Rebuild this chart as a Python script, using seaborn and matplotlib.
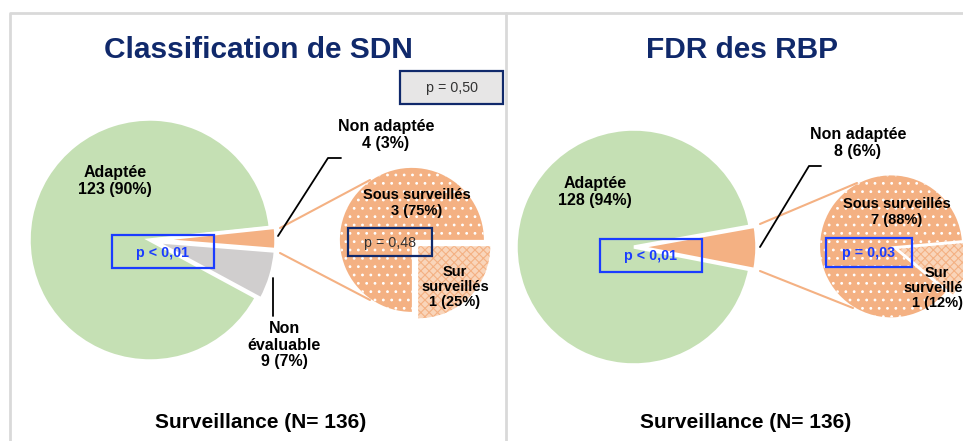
import matplotlib
matplotlib.use("Agg")
import matplotlib.pyplot as plt
import seaborn as sns
from matplotlib.patches import Rectangle

# =========================
# DATA
# =========================
titles = ["Classification de SDN", "FDR des RBP"]
footer = "Surveillance (N= 136)"

sdn_labels = ["Adaptée", "Non adaptée", "Non évaluable"]
sdn_counts = [123, 4, 9]
sdn_pct = [90, 3, 7]

rbp_labels = ["Adaptée", "Non adaptée"]
rbp_counts = [128, 8]
rbp_pct = [94, 6]

sub_labels = ["Sous surveillés", "Sur surveillés"]
sdn_sub_counts = [3, 1]
sdn_sub_pct = [75, 25]
rbp_sub_counts = [7, 1]
rbp_sub_pct = [88, 12]

p_global = "p = 0,50"
p_sdn_main = "p < 0,01"
p_sdn_sub = "p = 0,48"
p_rbp_main = "p < 0,01"
p_rbp_sub = "p = 0,03"

# =========================
# STYLE
# =========================
sns.set_theme(style="white")
plt.rcParams['font.family'] = ['Liberation Sans', 'DejaVu Sans']
plt.rcParams['text.color'] = 'black'
plt.rcParams['hatch.linewidth'] = 0.8

GREEN = "#c5e0b4"
ORANGE = "#f4b183"
LIGHT_ORANGE = "#f9d5ba"
GREY = "#d0cece"
NAVY = "#10296b"
BLUE = "#1a3cff"
H = 441
LBL = 11.5   # label size
SUB = 10.5   # sub-pie label size
PV = 10.3    # p-value size


def Y(y):
    # reference pixel rows are counted from the top
    return H - y


def lab(label, n, p):
    return f"{label}\n{n} ({p}%)"


def style_sub(wedges):
    # dotted "sous" slice, checkered "sur" slice
    wedges[0].set_edgecolor("white")
    wedges[0].set_hatch("..")
    wedges[1].set_facecolor(LIGHT_ORANGE)
    wedges[1].set_edgecolor(ORANGE)
    wedges[1].set_hatch("xxxx")


fig = plt.figure(figsize=(9.63, 4.41), dpi=100)
ax = fig.add_axes([0, 0, 1, 1])

# panel frames
ax.plot([10, 10, 506, 506], [0, Y(13), Y(13), 0], color="#d9d9d9", lw=2)
ax.plot([506, 963], [Y(13), Y(13)], color="#d9d9d9", lw=2)

# =========================
# LEFT : Classification de SDN
# =========================
ax.pie(sdn_counts, colors=[GREEN, ORANGE, GREY], startangle=-28.4,
       counterclock=False, center=(150, Y(240)), radius=121,
       explode=(0, 5, 5), frame=True,
       wedgeprops=dict(edgecolor="white", linewidth=2.5))

sub, _ = ax.pie(sdn_sub_counts, colors=[ORANGE, "white"], startangle=0,
                center=(414, Y(242)), radius=72, explode=(3, 6), frame=True,
                wedgeprops=dict(linewidth=0))
style_sub(sub)

# connectors
ax.plot([280, 370], [Y(228), Y(180)], color=ORANGE, lw=1.5)
ax.plot([280, 370], [Y(253), Y(300)], color=ORANGE, lw=1.5)
ax.plot([278, 328, 341], [Y(236), Y(158), Y(158)], color="black", lw=1.3)
ax.plot([273, 273], [Y(278), Y(316)], color="black", lw=1.3)

ax.text(258, Y(50), titles[0], ha="center", va="center", fontsize=21.5,
        fontweight="bold", color=NAVY)
ax.text(115, Y(181), lab(sdn_labels[0], sdn_counts[0], sdn_pct[0]),
        ha="center", va="center", fontsize=LBL, fontweight="bold", linespacing=1.2)
ax.text(386, Y(135), lab(sdn_labels[1], sdn_counts[1], sdn_pct[1]),
        ha="center", va="center", fontsize=LBL, fontweight="bold", linespacing=1.2)
ax.text(284, Y(345), "Non\névaluable\n%d (%d%%)" % (sdn_counts[2], sdn_pct[2]),
        ha="center", va="center", fontsize=LBL, fontweight="bold", linespacing=1.15)
ax.text(417, Y(203), lab(sub_labels[0], sdn_sub_counts[0], sdn_sub_pct[0]),
        ha="center", va="center", fontsize=SUB, fontweight="bold", linespacing=1.1)
ax.text(455, Y(287), "Sur\nsurveillés\n%d (%d%%)" % (sdn_sub_counts[1], sdn_sub_pct[1]),
        ha="center", va="center", fontsize=SUB, fontweight="bold", linespacing=1.1)

ax.add_patch(Rectangle((400, Y(104)), 103, 33, facecolor="#e7e6e6",
                       edgecolor=NAVY, lw=1.6))
ax.text(452, Y(88), p_global, ha="center", va="center", fontsize=PV, color="#333333")
ax.add_patch(Rectangle((112, Y(268)), 102, 33, facecolor="none", edgecolor=BLUE, lw=1.6))
ax.text(162, Y(253), p_sdn_main, ha="center", va="center", fontsize=PV,
        fontweight="bold", color=BLUE)
ax.add_patch(Rectangle((348, Y(256)), 84, 28, facecolor="none", edgecolor=NAVY, lw=1.6))
ax.text(390, Y(243), p_sdn_sub, ha="center", va="center", fontsize=PV, color="#333333")

ax.text(261, Y(423), footer, ha="center", va="center", fontsize=15, fontweight="bold")

# =========================
# RIGHT : FDR des RBP
# =========================
ax.pie(rbp_counts, colors=[GREEN, ORANGE], startangle=-11, counterclock=False,
       center=(634, Y(247)), radius=118, explode=(0, 5), frame=True,
       wedgeprops=dict(edgecolor="white", linewidth=2.5))

sub2, _ = ax.pie(rbp_sub_counts, colors=[ORANGE, "white"], startangle=5,
                 center=(893, Y(247)), radius=71, explode=(2, 6), frame=True,
                 wedgeprops=dict(linewidth=0))
style_sub(sub2)

ax.plot([760, 857], [Y(224), Y(183)], color=ORANGE, lw=1.5)
ax.plot([760, 853], [Y(271), Y(308)], color=ORANGE, lw=1.5)
ax.plot([760, 809, 821], [Y(247), Y(166), Y(166)], color="black", lw=1.3)

ax.text(742, Y(50), titles[1], ha="center", va="center", fontsize=21.5,
        fontweight="bold", color=NAVY)
ax.text(595, Y(192), lab(rbp_labels[0], rbp_counts[0], rbp_pct[0]),
        ha="center", va="center", fontsize=LBL, fontweight="bold", linespacing=1.2)
ax.text(858, Y(143), lab(rbp_labels[1], rbp_counts[1], rbp_pct[1]),
        ha="center", va="center", fontsize=LBL, fontweight="bold", linespacing=1.2)
ax.text(897, Y(212), lab(sub_labels[0], rbp_sub_counts[0], rbp_sub_pct[0]),
        ha="center", va="center", fontsize=SUB, fontweight="bold", linespacing=1.1)
ax.text(937, Y(288), "Sur\nsurveillés\n%d (%d%%)" % (rbp_sub_counts[1], rbp_sub_pct[1]),
        ha="center", va="center", fontsize=SUB, fontweight="bold", linespacing=1.1)

ax.add_patch(Rectangle((600, Y(272)), 102, 33, facecolor="none", edgecolor=BLUE, lw=1.6))
ax.text(651, Y(256), p_rbp_main, ha="center", va="center", fontsize=PV,
        fontweight="bold", color=BLUE)
ax.add_patch(Rectangle((826, Y(267)), 86, 29, facecolor="none", edgecolor=BLUE, lw=1.6))
ax.text(869, Y(253), p_rbp_sub, ha="center", va="center", fontsize=PV,
        fontweight="bold", color=BLUE)

ax.text(746, Y(423), footer, ha="center", va="center", fontsize=15, fontweight="bold")

ax.set_xlim(0, 963)
ax.set_ylim(0, H)
ax.set_aspect("equal")
ax.axis("off")

plt.savefig("out.png", dpi=100, facecolor="white")
plt.close()
